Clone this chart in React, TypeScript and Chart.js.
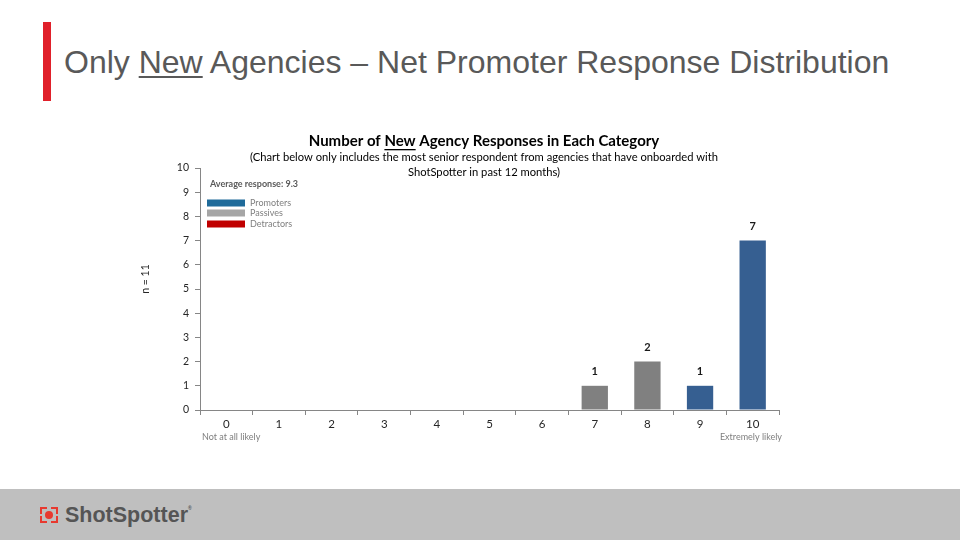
import React, { useEffect, useRef } from "react";
import { Chart, registerables } from "chart.js";

Chart.register(...registerables);

const categories = ["0", "1", "2", "3", "4", "5", "6", "7", "8", "9", "10"];
const responses = [0, 0, 0, 0, 0, 0, 0, 1, 2, 1, 7];
const categoryGroup = [
  "Detractors", "Detractors", "Detractors", "Detractors", "Detractors", "Detractors", "Detractors",
  "Passives", "Passives", "Promoters", "Promoters",
];
const legendGroups = ["Promoters", "Passives", "Detractors"];
const yTicks = [0, 1, 2, 3, 4, 5, 6, 7, 8, 9, 10];
const averageResponse = 9.3;
const sampleSize = 11;
const scaleEndLabels = ["Not at all likely", "Extremely likely"];
const chartTitleParts = ["Number of ", "New", " Agency Responses in Each Category"];
const chartSubtitle = [
  "(Chart below only includes the most senior respondent from agencies that have onboarded with",
  "ShotSpotter in past 12 months)",
];

const barColors: Record<string, string> = {
  Promoters: "#365f91",
  Passives: "#808080",
  Detractors: "#c00000",
};
const legendColors: Record<string, string> = {
  Promoters: "#1f6b9a",
  Passives: "#a6a6a6",
  Detractors: "#c00000",
};

const FONT = "Lato, 'Open Sans', sans-serif";

const overlayPlugin = {
  id: "overlay",
  afterDatasetsDraw(chart: any) {
    const ctx = chart.ctx as CanvasRenderingContext2D;
    const area = chart.chartArea;
    ctx.save();

    // data labels
    const meta = chart.getDatasetMeta(0);
    ctx.fillStyle = "#1a1a1a";
    ctx.font = `bold 11px ${FONT}`;
    ctx.textAlign = "center";
    ctx.textBaseline = "middle";
    meta.data.forEach((bar: any, i: number) => {
      const v = responses[i];
      if (v > 0) ctx.fillText(String(v), bar.x, bar.y - 14);
    });

    // chart title
    const cx = 484;
    ctx.font = `bold 15px ${FONT}`;
    ctx.fillStyle = "#000000";
    ctx.textAlign = "left";
    const widths = chartTitleParts.map((p) => ctx.measureText(p).width);
    const total = widths.reduce((a, b) => a + b, 0);
    let x = cx - total / 2;
    chartTitleParts.forEach((p, i) => {
      ctx.fillText(p, x, 141);
      if (p === "New") {
        ctx.fillRect(x, 149, widths[i], 1.3);
      }
      x += widths[i];
    });

    // subtitle
    ctx.font = `11.2px ${FONT}`;
    ctx.textAlign = "center";
    chartSubtitle.forEach((line, i) => {
      ctx.fillText(line, cx, 157 + i * 15);
    });

    // average response
    ctx.textAlign = "left";
    ctx.font = `bold 9px ${FONT}`;
    ctx.fillStyle = "#595959";
    ctx.fillText(`Average response: ${averageResponse}`, area.left + 10, 184);

    // legend
    const rowY = [203, 213, 224];
    legendGroups.forEach((g, i) => {
      ctx.fillStyle = legendColors[g];
      ctx.fillRect(area.left + 7, rowY[i] - 3.5, 38, 7);
      ctx.fillStyle = "#7f7f7f";
      ctx.font = `9px ${FONT}`;
      ctx.fillText(g, area.left + 50, rowY[i]);
    });

    // end labels
    ctx.font = `9px ${FONT}`;
    ctx.fillStyle = "#7f7f7f";
    ctx.textAlign = "left";
    ctx.fillText(scaleEndLabels[0], area.left + 2, 437);
    ctx.textAlign = "right";
    ctx.fillText(scaleEndLabels[1], area.right + 3, 437);

    // y axis title
    ctx.save();
    ctx.translate(146, 279);
    ctx.rotate(-Math.PI / 2);
    ctx.textAlign = "center";
    ctx.fillStyle = "#262626";
    ctx.font = `10.5px ${FONT}`;
    ctx.fillText(`n = ${sampleSize}`, 0, 0);
    ctx.restore();

    ctx.restore();
  },
};

function ChartCanvas() {
  const ref = useRef<HTMLCanvasElement>(null);
  useEffect(() => {
    if (!ref.current) return;
    const chart = new Chart(ref.current, {
      type: "bar",
      data: {
        labels: categories,
        datasets: [
          {
            data: responses,
            backgroundColor: categoryGroup.map((g) => barColors[g]),
            barPercentage: 0.5,
            categoryPercentage: 1,
          },
        ],
      },
      options: {
        animation: false,
        responsive: false,
        maintainAspectRatio: false,
        layout: { padding: { left: 160, right: 181, top: 168, bottom: 90 } },
        plugins: {
          legend: { display: false },
          tooltip: { enabled: false },
          title: { display: false },
        },
        scales: {
          x: {
            offset: true,
            grid: {
              offset: true,
              drawOnChartArea: false,
              drawTicks: true,
              tickLength: 5,
              color: "#868686",
            },
            border: { color: "#868686", width: 1 },
            ticks: {
              color: "#262626",
              font: { family: FONT, size: 11.5 },
              padding: 2,
              maxRotation: 0,
            },
            afterFit: (s: any) => {
              s.height = 40;
            },
          },
          y: {
            min: 0,
            max: 10,
            afterBuildTicks: (s: any) => {
              s.ticks = yTicks.map((v) => ({ value: v }));
            },
            grid: {
              drawOnChartArea: false,
              drawTicks: true,
              tickLength: 5,
              color: "#868686",
            },
            border: { color: "#868686", width: 1 },
            ticks: {
              color: "#262626",
              font: { family: FONT, size: 10.5 },
              padding: 6,
            },
            afterFit: (s: any) => {
              s.width = 40;
            },
          },
        },
      },
      plugins: [overlayPlugin],
    });
    return () => chart.destroy();
  }, []);
  return <canvas ref={ref} width={960} height={540} style={{ position: "absolute", left: 0, top: 0, width: 960, height: 540 }} />;
}

export default function App() {
  return (
    <div
      style={{
        position: "fixed",
        left: 0,
        top: 0,
        width: 960,
        height: 540,
        background: "#ffffff",
        overflow: "hidden",
        fontFamily: "'Liberation Sans', Arial, sans-serif",
      }}
    >
      <div style={{ position: "absolute", left: 43, top: 22, width: 8, height: 79, background: "#e0202a" }} />
      <div
        style={{
          position: "absolute",
          left: 64,
          top: 42,
          fontSize: 32,
          lineHeight: "40px",
          color: "#595959",
          whiteSpace: "nowrap",
        }}
      >
        Only <span style={{ textDecoration: "underline", textUnderlineOffset: 3, textDecorationThickness: 2 }}>New</span> Agencies – Net Promoter Response Distribution
      </div>
      <ChartCanvas />
      <div style={{ position: "absolute", left: 0, top: 489, width: 960, height: 51, background: "#bfbfbf" }}>
        <div style={{ position: "absolute", left: 40, top: 18, width: 18, height: 16 }}>
          <div style={{ position: "absolute", left: 0, top: 0, width: 5, height: 5, borderLeft: "2px solid #e8392f", borderTop: "2px solid #e8392f" }} />
          <div style={{ position: "absolute", right: 0, top: 0, width: 5, height: 5, borderRight: "2px solid #e8392f", borderTop: "2px solid #e8392f" }} />
          <div style={{ position: "absolute", left: 0, bottom: 0, width: 5, height: 5, borderLeft: "2px solid #e8392f", borderBottom: "2px solid #e8392f" }} />
          <div style={{ position: "absolute", right: 0, bottom: 0, width: 5, height: 5, borderRight: "2px solid #e8392f", borderBottom: "2px solid #e8392f" }} />
          <div style={{ position: "absolute", left: 5, top: 4, width: 8, height: 8, borderRadius: 4, background: "#e8392f" }} />
        </div>
        <div
          style={{
            position: "absolute",
            left: 65,
            top: 14,
            fontSize: 21.5,
            lineHeight: "24px",
            fontWeight: 700,
            color: "#555555",
            whiteSpace: "nowrap",
          }}
        >
          ShotSpotter<sup style={{ fontSize: 5, verticalAlign: "top", lineHeight: "10px" }}>®</sup>
        </div>
      </div>
    </div>
  );
}
